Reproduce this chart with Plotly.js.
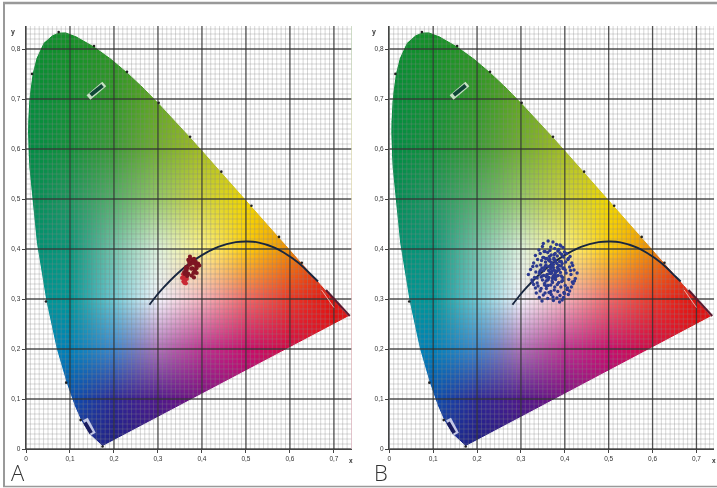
<!DOCTYPE html>
<html><head><meta charset="utf-8">
<script src="https://cdn.plot.ly/plotly-3.0.1.min.js"></script>
<style>html,body{margin:0;padding:0;background:#fff}#g{width:717px;height:488px;filter:blur(0.6px)}</style>
</head><body><div id="g"></div>
<script>
// CIE 1931 spectral locus, read along the edge of the coloured area
const locusX=[.1741,.1440,.1241,.1096,.0913,.0687,.0454,.0235,.0082,.0065,.0051,.0040,.0035,.0039,.0047,.0061,.0080,.0106,.0139,.0227,.0389,.0600,.0743,.0905,.1142,.1547,.1929,.2296,.2658,.3016,.3373,.3731,.4087,.4441,.4788,.5125,.5448,.5752,.6029,.6270,.6658,.6915,.7079,.7260,.7347];
const locusY=[.0050,.0297,.0578,.0868,.1327,.2007,.2950,.4127,.5384,.5625,.5868,.6106,.6334,.6548,.6752,.6941,.7116,.7271,.7502,.7812,.8120,.8283,.8338,.8342,.8262,.8059,.7816,.7543,.7243,.6923,.6589,.6245,.5896,.5547,.5202,.4866,.4544,.4242,.3965,.3725,.3340,.3083,.2920,.2740,.2653];
// small dots on the locus
const dotX=[.1741,.1241,.0913,.0454,.0139,.0743,.1547,.2296,.3016,.3731,.4441,.5125,.5752,.6270];
const dotY=[.0050,.0578,.1327,.2950,.7502,.8338,.8059,.7543,.6923,.6245,.5547,.4866,.4242,.3725];
// curved dark line
const curveX=[.2807,.2960,.3135,.3451,.3805,.4369,.4769,.5040,.5267,.5650,.5857,.6200,.6528,.6640];
const curveY=[.2884,.3060,.3237,.3516,.3768,.4041,.4137,.4150,.4133,.4029,.3931,.3720,.3444,.3350];
// point clusters: upper dark part and lower bright part of A, then B
const clusterAX=[.3727,.3690,.3765,.3795,.3822,.3858,.3912,.3940,.3870,.3780,.3745,.3712,.3672,.3648,.3628,.3596,.3842,.3838,.3881,.3806,.3762,.3818,.3690,.3665,.3845,.3795,.3758,.3640,.3606,.3655,.3710,.3880];
const clusterAY=[.3846,.3782,.3795,.3768,.3805,.3742,.3710,.3668,.3642,.3612,.3702,.3684,.3622,.3572,.3604,.3538,.3590,.3558,.3618,.3522,.3468,.3432,.3502,.3462,.3704,.3724,.3606,.3640,.3500,.3520,.3740,.3520];
const clusterLowX=[.3572,.3548,.3592,.3618,.3642,.3606,.3578,.3604,.3635,.3655];
const clusterLowY=[.3496,.3422,.3384,.3362,.3418,.3448,.3352,.3322,.3314,.3402];
const clusterBX=[.351,.362,.368,.381,.386,.396,.399,.341,.355,.349,.366,.373,.377,.391,.404,.393,.412,.333,.344,.352,.338,.361,.369,.384,.375,.397,.407,.389,.416,.402,.329,.347,.336,.359,.345,.365,.356,.378,.371,.383,.394,.411,.398,.421,.408,.322,.334,.327,.348,.342,.357,.363,.352,.374,.387,.369,.379,.403,.392,.414,.424,.418,.317,.331,.325,.343,.337,.358,.349,.367,.354,.381,.372,.395,.386,.409,.401,.419,.413,.428,.326,.339,.333,.354,.346,.371,.362,.376,.391,.383,.368,.405,.398,.415,.422,.408,.335,.344,.329,.358,.351,.377,.364,.389,.373,.399,.382,.411,.394,.417,.342,.337,.355,.348,.369,.361,.384,.374,.397,.388,.406,.393,.346,.358,.352,.373,.366,.387,.379,.401,.392,.361,.354,.377,.371,.396,.385,.368,.381,.363,.375,.372,.364,.379,.367,.383,.359,.375,.369,.386,.356,.377,.365,.371,.382,.362,.374,.368,.378,.353,.389,.360,.376,.384,.392,.350,.345,.366,.372,.380,.388,.357,.363,.370,.374,.390,.348,.395,.368,.378,.355];
const clusterBY=[.411,.416,.404,.409,.399,.403,.394,.398,.395,.405,.397,.414,.401,.406,.391,.389,.385,.387,.391,.383,.379,.393,.388,.396,.382,.384,.379,.392,.372,.374,.372,.377,.366,.381,.368,.385,.374,.378,.369,.386,.371,.364,.362,.358,.381,.359,.354,.365,.362,.351,.368,.357,.347,.363,.359,.373,.353,.352,.346,.349,.341,.367,.349,.343,.338,.355,.332,.344,.338,.351,.328,.346,.341,.337,.333,.339,.327,.331,.357,.352,.334,.326,.322,.331,.321,.336,.327,.318,.324,.329,.315,.319,.313,.324,.336,.309,.312,.316,.329,.321,.308,.324,.313,.307,.304,.311,.302,.316,.298,.334,.303,.342,.312,.296,.309,.301,.315,.297,.303,.294,.322,.335,.344,.326,.357,.344,.352,.367,.339,.358,.375,.338,.362,.349,.372,.361,.347,.365,.355,.378,.358,.368,.343,.374,.354,.363,.348,.379,.352,.366,.381,.342,.376,.356,.371,.339,.369,.361,.356,.395,.408,.349,.389,.357,.366,.383,.358,.379,.333,.345,.375,.336,.365,.352,.346,.353,.346,.343,.328,.391,.365];
// letters and tick labels
const xTickVals=[0,.1,.2,.3,.4,.5,.6,.7];
const xTickText=['0','0,1','0,2','0,3','0,4','0,5','0,6','0,7'];
const yTickVals=[0,.1,.2,.3,.4,.5,.6,.7,.8];
const yTickText=['0','0,1','0,2','0,3','0,4','0,5','0,6','0,7','0,8'];
// colours of the fill, rows y=0..0.9, columns x=0..0.8
const rowY0=[[30,60,160],[30,50,150],[30,30,130],[50,20,125],[85,10,125],[130,10,120],[170,10,100],[200,10,60],[200,10,60]];
const rowY1=[[0,100,190],[10,80,175],[45,40,150],[80,25,140],[120,15,130],[160,10,120],[190,10,90],[215,15,50],[215,15,50]];
const rowY2=[[0,135,185],[0,130,185],[60,135,205],[175,115,185],[190,50,145],[200,15,110],[210,10,70],[225,15,30],[225,15,30]];
const rowY3=[[0,150,150],[0,150,150],[110,200,210],[245,245,255],[245,180,190],[240,105,105],[235,55,40],[225,20,15],[225,20,15]];
const rowY4=[[0,145,115],[10,150,120],[115,195,170],[220,240,220],[255,245,140],[255,205,10],[240,140,5],[225,55,10],[225,55,10]];
const rowY5=[[0,140,85],[30,150,95],[85,175,105],[150,200,105],[205,210,60],[240,215,0],[240,190,0],[240,190,0],[240,190,0]];
const rowY6=[[0,140,70],[20,145,60],[60,155,55],[115,175,50],[165,190,35],[205,200,10],[205,200,10],[205,200,10],[205,200,10]];
const rowY7=[[5,140,60],[20,145,50],[50,152,40],[100,168,35],[145,180,30],[145,180,30],[145,180,30],[145,180,30],[145,180,30]];
const rowY8=[[10,140,50],[20,145,40],[45,150,35],[80,160,30],[80,160,30],[80,160,30],[80,160,30],[80,160,30],[80,160,30]];
const fillRows=[rowY0,rowY1,rowY2,rowY3,rowY4,rowY5,rowY6,rowY7,rowY8,rowY8];

const XMAX=.74,YMAX=.846;
function colourAt(x,y){
  const fx=x/.1,fy=y/.1,i=Math.min(7,Math.floor(fx)),j=Math.min(8,Math.floor(fy)),u=fx-i,v=fy-j,out=[];
  for(let k=0;k<3;k++){
    const a=fillRows[j][i][k]*(1-u)+fillRows[j][i+1][k]*u;
    const b=fillRows[j+1][i][k]*(1-u)+fillRows[j+1][i+1][k]*u;
    out.push(Math.round(a*(1-v)+b*v));
  }
  return out;
}
const STEP=.005,img=[];
for(let r=0;r*STEP<YMAX;r++){const row=[];for(let c=0;c*STEP<XMAX;c++)row.push(colourAt((c+.5)*STEP,(r+.5)*STEP));img.push(row);}
function gridPath(step){
  const xs=[],ys=[];
  for(let i=0;i*step<=XMAX+1e-9;i++){xs.push(i*step,i*step,null);ys.push(0,YMAX,null);}
  for(let j=0;j*step<=YMAX+1e-9;j++){xs.push(0,XMAX,null);ys.push(j*step,j*step,null);}
  return {xs,ys};
}
const fine=gridPath(.01),major=gridPath(.1);
const maskX=[0,XMAX,XMAX,0,0,locusX[0]].concat(locusX,[locusX[0],0]);
const maskY=[0,0,YMAX,YMAX,0,locusY[0]].concat(locusY,[locusY[0],0]);
const none={hoverinfo:'skip',showlegend:false};
function panel(sfx){
  const ax={xaxis:'x'+sfx,yaxis:'y'+sfx};
  const t=[];
  t.push(Object.assign({type:'image',z:img,x0:STEP/2,y0:STEP/2,dx:STEP,dy:STEP,colormodel:'rgb',hoverinfo:'skip'},ax));
  t.push(Object.assign({type:'scatter',mode:'lines',x:maskX,y:maskY,fill:'toself',fillcolor:'#fff',line:{color:'#fff',width:1}},none,ax));
  t.push(Object.assign({type:'scatter',mode:'lines',x:fine.xs,y:fine.ys,line:{color:'rgba(135,135,135,.42)',width:.8}},none,ax));
  t.push(Object.assign({type:'scatter',mode:'lines',x:major.xs,y:major.ys,line:{color:'rgba(45,45,45,.78)',width:1.3}},none,ax));
  t.push(Object.assign({type:'scatter',mode:'markers',x:dotX,y:dotY,marker:{color:'#222',size:2.6}},none,ax));
  // highlighted corner marks
  t.push(Object.assign({type:'scatter',mode:'lines',x:[.142,.178],y:[.703,.730],line:{color:'rgba(225,238,220,.85)',width:6}},none,ax));
  t.push(Object.assign({type:'scatter',mode:'lines',x:[.147,.174],y:[.708,.727],line:{color:'#0f4636',width:4}},none,ax));
  t.push(Object.assign({type:'scatter',mode:'lines',x:[.135,.153],y:[.060,.030],line:{color:'rgba(235,235,250,.8)',width:5.5}},none,ax));
  t.push(Object.assign({type:'scatter',mode:'lines',x:[.134,.148],y:[.053,.032],line:{color:'#1a1c5e',width:3.8}},none,ax));
  t.push(Object.assign({type:'scatter',mode:'lines',x:[.672,.700],y:[.318,.283],line:{color:'rgba(246,216,208,.75)',width:1}},none,ax));
  t.push(Object.assign({type:'scatter',mode:'lines',x:[.682,.706,.736],y:[.318,.294,.266],line:{color:'#5a1a30',width:2}},none,ax));
  t.push(Object.assign({type:'scatter',mode:'lines',x:curveX,y:curveY,line:{color:'#18263f',width:1.9,shape:'spline'}},none,ax));
  if(sfx===''){
    t.push(Object.assign({type:'scatter',mode:'markers',x:clusterLowX,y:clusterLowY,marker:{color:'#c92a35',size:4.2}},none,ax));
    t.push(Object.assign({type:'scatter',mode:'markers',x:clusterAX,y:clusterAY,marker:{color:'#7e1622',size:4.2}},none,ax));
  }else{
    t.push(Object.assign({type:'scatter',mode:'markers',x:clusterBX,y:clusterBY,marker:{color:'#2c3a90',size:3.4}},none,ax));
  }
  return t;
}
const data=panel('').concat(panel('2'));
function xa(l,r){return {domain:[l/717,r/717],range:[0,XMAX],constrain:'range',tickvals:xTickVals,ticktext:xTickText,tickfont:{size:6.5,color:'#333',family:'Liberation Sans'},ticks:'outside',ticklen:3,tickcolor:'#444',showgrid:false,zeroline:false,showline:true,linecolor:'#444',linewidth:1.4,fixedrange:true};}
function ya(){return {domain:[39/488,462/488],range:[0,YMAX],scaleanchor:false,constrain:'range',tickvals:yTickVals,ticktext:yTickText,tickfont:{size:6.5,color:'#333',family:'Liberation Sans'},ticks:'outside',ticklen:3,tickcolor:'#444',showgrid:false,zeroline:false,showline:true,linecolor:'#444',linewidth:1.4,fixedrange:true};}
const y1=ya(),y2=ya();y2.anchor='x2';const x2=xa(389.3,714);x2.anchor='y2';
const note=(t,x,y,s,w)=>({text:t,xref:'paper',yref:'paper',x:x/717,y:1-y/488,showarrow:false,xanchor:'center',yanchor:'middle',font:{size:s,color:'#333',family:'Liberation Sans',weight:w}});
const letter=(t,x)=>({text:t,xref:'paper',yref:'paper',x:x/717,y:1-472/488,borderpad:0,showarrow:false,xanchor:'center',yanchor:'middle',font:{size:22,color:'#333',family:'Open Sans',weight:300}});
const layout={width:717,height:488,margin:{l:0,r:0,t:0,b:0},paper_bgcolor:'#fff',plot_bgcolor:'#fff',showlegend:false,
  xaxis:xa(26,351.5),yaxis:y1,xaxis2:x2,yaxis2:y2,
  annotations:[note('y',13,32,7,700),note('x',351,460,6.5,700),note('y',374.5,32,7,700),note('x',714,460,6.5,700),letter('A',17.5),letter('B',380.5)],
  shapes:[
    {type:'line',xref:'paper',yref:'paper',x0:3/717,x1:1,y0:1-3/488,y1:1-3/488,line:{color:'#999',width:2.4}},
    {type:'line',xref:'paper',yref:'paper',x0:4/717,x1:4/717,y0:1-3/488,y1:1-486.5/488,line:{color:'#999',width:2}},
    {type:'line',xref:'paper',yref:'paper',x0:3/717,x1:1,y0:1-486.5/488,y1:1-486.5/488,line:{color:'#999',width:1.6}}
  ]};
Plotly.newPlot('g',data,layout,{staticPlot:true,displayModeBar:false});
</script></body></html>
